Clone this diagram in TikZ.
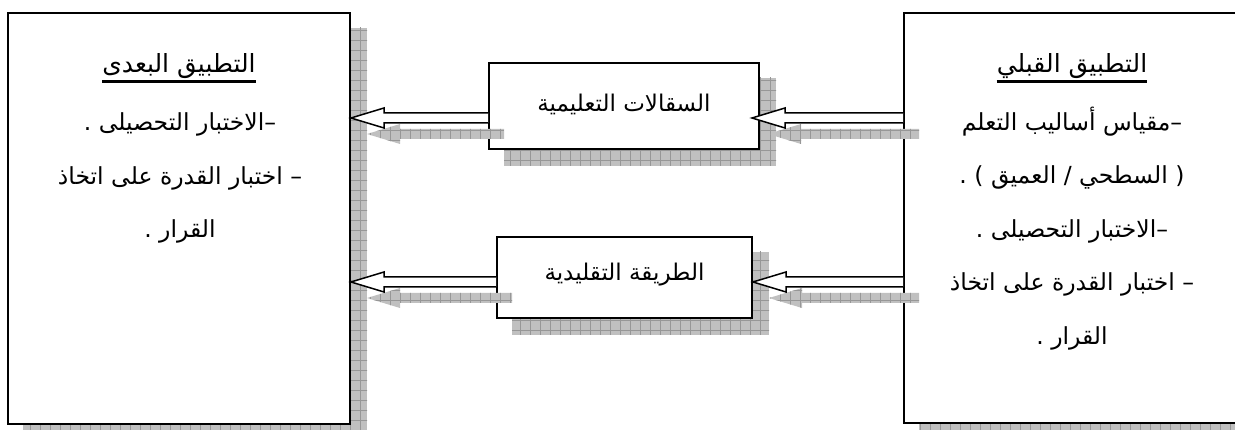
\documentclass[tikz,border=0pt]{standalone}
\usepackage{fontspec}
\newfontfamily\arabicfont[Script=Arabic]{DejaVu Sans}
\TeXXeTstate=1
\usetikzlibrary{calc,backgrounds,patterns.meta}

\definecolor{shadowgrey}{HTML}{C0C0C0}
\definecolor{gridgrey}{HTML}{979797}

\tikzset{
  box/.style={draw, line width=2pt, fill=white, inner sep=0pt},
  boxtext/.style={font=\arabicfont\fontsize{23}{26}\selectfont},
  title/.style={inner xsep=0pt, inner ysep=3pt, anchor=south,
                font=\arabicfont\fontsize{25}{30}\selectfont},
  titlerule/.style={line width=3pt},
  lines/.style={align=center, font=\arabicfont\fontsize{23.5}{53.5}\selectfont},
  hatched/.style={fill=shadowgrey,
                  postaction={pattern={Hatch[distance=10pt, line width=0.6pt]}, pattern color=gridgrey}},
  arrowbody/.style={draw=black, fill=white, line width=1.5pt},
  blockarrow/.pic={
    \filldraw[pic actions] (#1,5) -- (33,5) -- (33,10) -- (0,0) -- (33,-10) -- (33,-5) -- (#1,-5);
  },
  arrowshade/.pic={
    \fill[hatched] (#1,5) -- (33,5) -- (33,10) -- (0,0) -- (33,-10) -- (33,-5) -- (#1,-5) -- cycle;
  },
}

\begin{document}
\begin{tikzpicture}[x=1pt, y=1pt]
    \useasboundingbox (0,0) rectangle (1235,430);

    % the four boxes
    \node[box, minimum width=342pt, minimum height=411pt] (post) at (179,211.5) {};
    \node[box, minimum width=341pt, minimum height=410pt] (pre)  at (1074.5,212) {};
    \node[box, minimum width=270pt, minimum height=86pt]  (scaf) at (624,324) {};
    \node[box, minimum width=255pt, minimum height=81pt]  (trad) at (624.5,152.5) {};
    \node[boxtext] (scaftext) at ($(scaf.center)+(0,2)$) {\beginR السقالات التعليمية\endR};
    \node[boxtext] (tradtext) at ($(trad.center)+(0,3)$) {\beginR الطريقة التقليدية\endR};

    % shadows of the boxes
    \begin{scope}[on background layer]
        \fill[hatched] ($(post.south west)+(16,-16)$) rectangle ($(post.north east)+(16,-16)$);
        \fill[hatched] ($(pre.south west)+(16,-16)$)  rectangle ($(pre.north east)+(16,-16)$);
        \fill[hatched] ($(scaf.south west)+(16,-16)$) rectangle ($(scaf.north east)+(16,-16)$);
        \fill[hatched] ($(trad.south west)+(16,-16)$) rectangle ($(trad.north east)+(16,-16)$);
    \end{scope}

    % left box
    \node[title] (posttitle) at (179,348) {\beginR التطبيق البعدى\endR};
    \draw[titlerule] (posttitle.south west) -- (posttitle.south east);
    \node[lines] (posttext) at (180,252) {\beginR –الاختبار التحصيلى .\endR\\
        \beginR – اختبار القدرة على اتخاذ\endR\\
        \beginR القرار .\endR};

    % right box
    \node[title] (pretitle) at (1072,348) {\beginR التطبيق القبلي\endR};
    \draw[titlerule] (pretitle.south west) -- (pretitle.south east);
    \node[lines] (pretext) at (1072,201.5) {\beginR –مقياس أساليب التعلم\endR\\
        \beginR ( السطحي / العميق ) .\endR\\
        \beginR –الاختبار التحصيلى .\endR\\
        \beginR – اختبار القدرة على اتخاذ\endR\\
        \beginR القرار .\endR};

    % arrow shadows
    \pic at ($(post.east |- scaf.center)+(16,-28)$) {arrowshade=137};
    \pic at ($(scaf.east)+(8,-28)$) {arrowshade=151};
    \pic at ($(post.east |- trad.center)+(16,-20.5)$) {arrowshade=145};
    \pic at ($(trad.east)+(16,-20.5)$) {arrowshade=150};

    % arrows
    \pic[arrowbody] at ($(post.east |- scaf.center)+(0,-12)$) {blockarrow=137};
    \pic[arrowbody] at ($(scaf.east)+(-8,-12)$) {blockarrow=151};
    \pic[arrowbody] at ($(post.east |- trad.center)+(0,-4.5)$) {blockarrow=145};
    \pic[arrowbody] at ($(trad.east)+(0,-4.5)$) {blockarrow=150};

\end{tikzpicture}
\end{document}
